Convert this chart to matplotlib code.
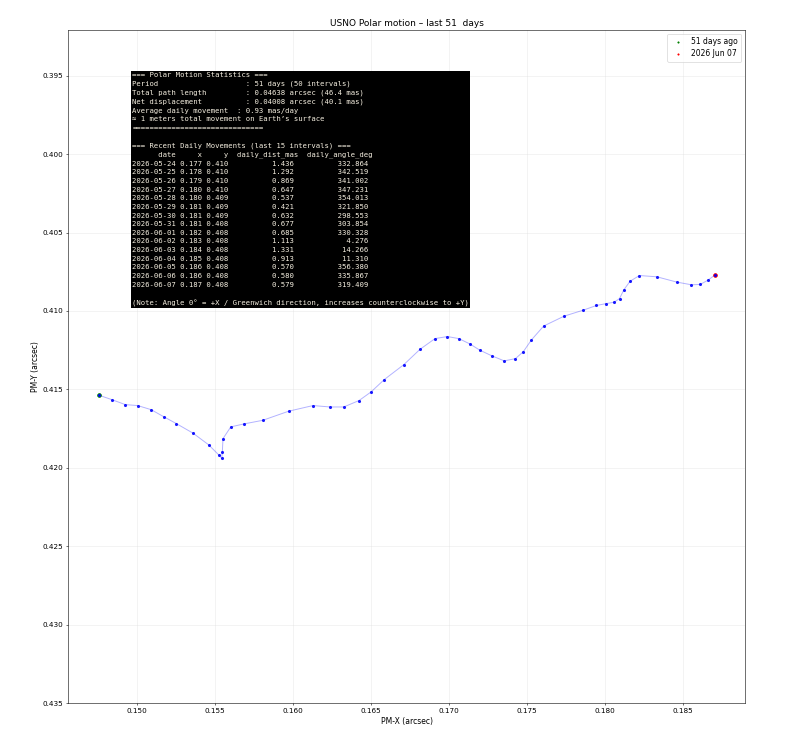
import matplotlib
matplotlib.use('Agg')
import matplotlib.pyplot as plt

# PM-X / PM-Y positions (arcsec), one per day, 2026-04-18 .. 2026-06-07
pm_x = [0.14756, 0.14838, 0.14925, 0.15004, 0.15090, 0.15171, 0.15252, 0.15359,
        0.15460, 0.15524, 0.15543, 0.15547, 0.15551, 0.15601, 0.15686, 0.15806,
        0.15972, 0.16128, 0.16237, 0.16325, 0.16423, 0.16500, 0.16585, 0.16710,
        0.16814, 0.16910, 0.16989, 0.17062, 0.17133, 0.17197, 0.17274, 0.17353,
        0.17425, 0.17476, 0.17528, 0.17606, 0.17737, 0.17859, 0.17944, 0.18006,
        0.18058, 0.18092, 0.18120, 0.18160, 0.18220, 0.18331, 0.18460, 0.18553,
        0.18609, 0.18660, 0.18707]
pm_y = [0.41537, 0.41565, 0.41597, 0.41603, 0.41629, 0.41674, 0.41718, 0.41779,
        0.41854, 0.41918, 0.41939, 0.41897, 0.41814, 0.41739, 0.41720, 0.41697,
        0.41639, 0.41603, 0.41612, 0.41612, 0.41571, 0.41516, 0.41437, 0.41342,
        0.41244, 0.41176, 0.41163, 0.41176, 0.41210, 0.41250, 0.41286, 0.41318,
        0.41304, 0.41259, 0.41184, 0.41096, 0.41033, 0.40995, 0.40965, 0.40953,
        0.40944, 0.40921, 0.40865, 0.40810, 0.40774, 0.40782, 0.40816, 0.40833,
        0.40831, 0.40803, 0.40768]

n_days = 51
start_label = '51 days ago'
end_label = '2026 Jun 07'

recent_dates = ['2026-05-24', '2026-05-25', '2026-05-26', '2026-05-27', '2026-05-28',
                '2026-05-29', '2026-05-30', '2026-05-31', '2026-06-01', '2026-06-02',
                '2026-06-03', '2026-06-04', '2026-06-05', '2026-06-06', '2026-06-07']
recent_x = [0.177, 0.178, 0.179, 0.180, 0.180, 0.181, 0.181, 0.181, 0.182, 0.183,
            0.184, 0.185, 0.186, 0.186, 0.187]
recent_y = [0.410, 0.410, 0.410, 0.410, 0.409, 0.409, 0.409, 0.408, 0.408, 0.408,
            0.408, 0.408, 0.408, 0.408, 0.408]
recent_dist = [1.436, 1.292, 0.869, 0.647, 0.537, 0.421, 0.632, 0.677, 0.685, 1.113,
               1.331, 0.913, 0.570, 0.580, 0.579]
recent_angle = [332.864, 342.519, 341.002, 347.231, 354.013, 321.850, 298.553, 303.854,
                330.328, 4.276, 14.266, 11.310, 356.380, 335.867, 319.409]

# stats text
lines = [
    '=== Polar Motion Statistics ===',
    'Period                    : 51 days (50 intervals)',
    'Total path length         : 0.04638 arcsec (46.4 mas)',
    'Net displacement          : 0.04008 arcsec (40.1 mas)',
    'Average daily movement  : 0.93 mas/day',
    '\u2248 1 meters total movement on Earth\u2019s surface',
    '==============================',
    '',
    '=== Recent Daily Movements (last 15 intervals) ===',
    '      date     x     y  daily_dist_mas  daily_angle_deg',
]
for d, x, y, dist, ang in zip(recent_dates, recent_x, recent_y, recent_dist, recent_angle):
    lines.append(f'{d} {x:.3f} {y:.3f}{dist:15.3f}{ang:17.3f}')
lines.append('')
lines.append('(Note: Angle 0\u00b0 = +X / Greenwich direction, increases counterclockwise to +Y)')
stats_text = '\n'.join(lines)

plt.rcParams['font.size'] = 10.5

fig = plt.figure(figsize=(15.82, 14.88), dpi=50)
ax = fig.add_axes([0.086, 0.055, 0.856, 0.905])

ax.plot(pm_x, pm_y, '-', color='blue', alpha=0.3, lw=1.4)
ax.scatter(pm_x[0], pm_y[0], color='green', s=30, label=start_label, zorder=3)
ax.scatter(pm_x[-1], pm_y[-1], color='red', s=30, label=end_label, zorder=3)
ax.scatter(pm_x, pm_y, color='blue', s=20, zorder=4, alpha=0.9, linewidths=0)

ax.set_xlim(0.14558, 0.18897)
ax.set_ylim(0.435, 0.39207)
ax.set_xticks([0.150, 0.155, 0.160, 0.165, 0.170, 0.175, 0.180, 0.185])
ax.set_yticks([0.395, 0.400, 0.405, 0.410, 0.415, 0.420, 0.425, 0.430, 0.435])
ax.xaxis.set_major_formatter(matplotlib.ticker.FormatStrFormatter('%.3f'))
ax.yaxis.set_major_formatter(matplotlib.ticker.FormatStrFormatter('%.3f'))
ax.grid(True, color='#dddddd', alpha=0.6)

ax.set_xlabel('PM-X (arcsec)', fontsize=11)
ax.set_ylabel('PM-Y (arcsec)', fontsize=11)
ax.set_title(f'USNO Polar motion \u2013 last {n_days}  days', fontsize=13)
ax.legend(loc='upper right', markerscale=0.35, fontsize=11)

ax.text(0.095, 0.938, stats_text, transform=ax.transAxes, family='DejaVu Sans Mono',
        fontsize=10.4, color='#f5efe0', va='top', ha='left', linespacing=1.53, zorder=5,
        bbox=dict(boxstyle='square,pad=0.15', facecolor='black', edgecolor='none'))

fig.savefig('out.png', dpi=50)
